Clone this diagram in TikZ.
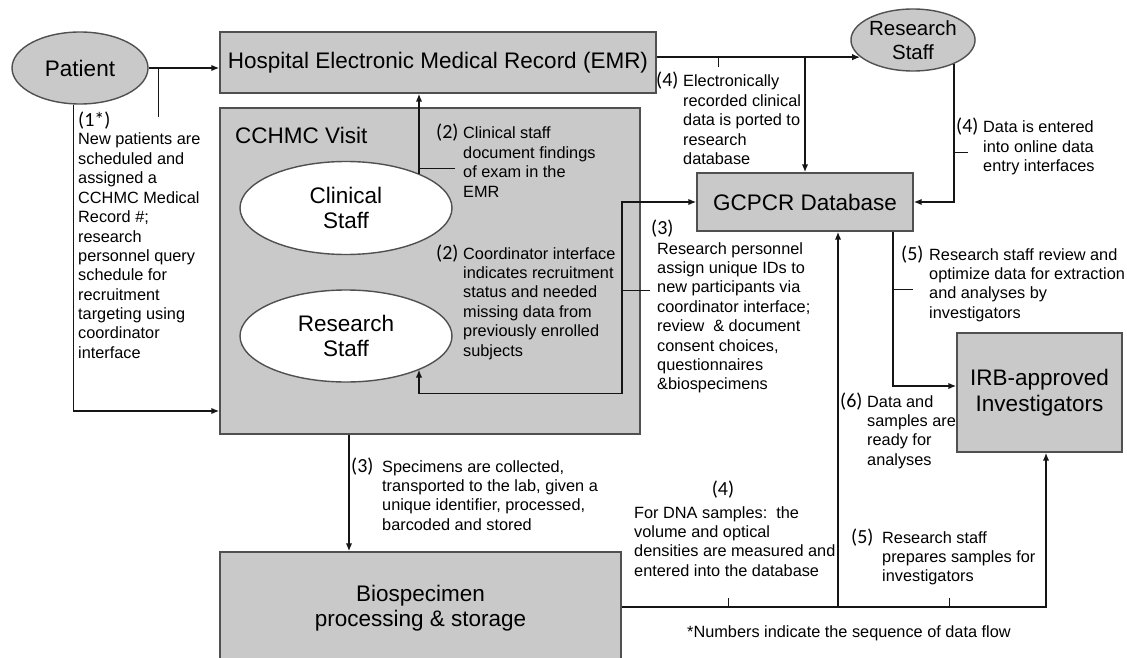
\documentclass[tikz,border=0pt]{standalone}
\usepackage{fontspec}
\setmainfont{Liberation Sans}
\newfontfamily\numfont{Carlito}
\usetikzlibrary{arrows.meta,calc,shapes.geometric}
\newcommand{\mylines}[1]{\begin{tabular}[t]{@{}l@{}}#1\end{tabular}}
\newcommand{\bigf}{\fontsize{22.5}{25.5}\selectfont}
\newcommand{\midf}{\fontsize{20.5}{23.5}\selectfont}
\newcommand{\smallf}{\fontsize{16.3}{19.4}\selectfont}
\newcommand{\numf}{\numfont\fontsize{20}{19.4}\selectfont}
\definecolor{boxgray}{HTML}{C9C9C9}
\definecolor{edgegray}{HTML}{505050}
\definecolor{linec}{HTML}{151515}
\begin{document}
\begin{tikzpicture}[x=1pt,y=-1pt,
  box/.style={draw=edgegray,line width=1.4pt,fill=boxgray,inner sep=0pt,font=\bigf,align=center},
  gell/.style={ellipse,draw=edgegray,line width=1.4pt,fill=boxgray,inner sep=0pt,font=\bigf,align=center},
  well/.style={ellipse,draw=edgegray,line width=1.4pt,fill=white,inner sep=0pt,font=\bigf,align=center},
  lab/.style={anchor=base west,inner sep=0pt,font=\smallf},
  num/.style={anchor=base west,inner sep=0pt,font=\numf},
  arr/.style={draw=linec,line width=1.8pt,-{Latex[length=8pt,width=6.5pt]}},
  arrtwo/.style={draw=linec,line width=1.8pt,{Latex[length=8pt,width=6.5pt]}-{Latex[length=8pt,width=6.5pt]}},
  tick/.style={draw=linec,line width=0.9pt}]
\useasboundingbox (0,0) rectangle (1127,658);
\clip (0,0) rectangle (1127,658);
\fill[white] (0,0) rectangle (1127,658);

% main shapes
\node[gell,minimum width=136pt,minimum height=72pt] (patient) at (80,68) {Patient};
\node[box,minimum width=436pt,minimum height=61pt] (emr) at (438,62.5) {Hospital Electronic Medical Record (EMR)};
\node[box,minimum width=420pt,minimum height=326pt] (visit) at (430,271) {};
\node[anchor=base west,inner sep=0pt,font=\bigf] (visitlab) at (235,143) {CCHMC Visit};
\node[well,minimum width=212pt,minimum height=93pt] (clin) at (346,208) {Clinical\\Staff};
\node[well,minimum width=212pt,minimum height=92pt] (rsone) at (346,336) {Research\\Staff};
\node[gell,font=\midf,minimum width=122pt,minimum height=62pt] (rstwo) at (913,40) {Research\\Staff};
\node[box,minimum width=216pt,minimum height=58pt] (gcpcr) at (805,202) {GCPCR Database};
\node[box,minimum width=165pt,minimum height=119pt] (irb) at (1039.5,392.5) {IRB-approved\\Investigators};
\node[box,minimum width=401pt,minimum height=112pt] (bio) at (420.5,608) {Biospecimen\\processing \& storage};

% connectors
\draw[arr] (patient.east) -- (emr.west |- patient.east);
\draw[tick] (158,68) -- (158,117);
\draw[arr] (patient.260) |- (visit.west |- 0,411);

\draw[arr] ($(clin.center)+(73,-34)$) coordinate (cone) -- (cone |- emr.south);
\draw[tick] (cone |- 0,168) -- (455,168);

\draw[arr] (emr.east |- rstwo.198) -- (rstwo.198);
\draw[arr] (gcpcr.north |- rstwo.198) -- (gcpcr.north);
\draw[tick] (718,57.5) -- (718,67);

\draw[arr] (rstwo.-30) |- (gcpcr.east);
\draw[tick] (rstwo.-30 |- 0,152) -- (968,152);

\draw[arr] ($(gcpcr.south east)+(-21,0)$) coordinate (gout) |- ($(irb.west)+(0,-6.5)$);
\draw[tick] (gout |- 0,289) -- (913,289);

\draw[arrtwo] ($(rsone.center)+(73,33.5)$) -- ++(0,24) -| ($(gcpcr.west)+(-74,0)$) coordinate (gin) -- (gcpcr.west);
\draw[tick] (gin |- 0,290) -- (650,290);

\draw[arr] (visit.south -| 349,0) -- (bio.north -| 349,0);

\draw[arr] (bio.east |- 0,607) -| ($(irb.south)+(6.5,0)$);
\draw[arr] (838,607) coordinate (bj) -- (gcpcr.south -| bj);
\draw[tick] (728,598) -- (728,607);
\draw[tick] (949,598) -- (949,607);

% labels
\node[num] (n1) at (78,127) {(1*)};
\node[lab] (t1) at (78,145) {\mylines{New patients are\\scheduled and\\assigned a\\CCHMC Medical\\Record \#;\\research\\personnel query\\schedule for\\recruitment\\targeting using\\coordinator\\interface}};

\node[num] (n2a) at (436,139) {(2)};
\node[lab] (t2a) at (463,139) {\mylines{Clinical staff\\document findings\\of exam in the\\EMR}};

\node[num] (n2b) at (436,259) {(2)};
\node[lab] (t2b) at (463,259) {\mylines{Coordinator interface\\indicates recruitment\\status and needed\\missing data from\\previously enrolled\\subjects}};

\node[num] (n4a) at (656,87) {(4)};
\node[lab] (t4a) at (683,87) {\mylines{Electronically\\recorded clinical\\data is ported to\\research\\database}};

\node[num] (n4b) at (956,133) {(4)};
\node[lab] (t4b) at (983,133) {\mylines{Data is entered\\into online data\\entry interfaces}};

\node[num] (n5a) at (901,260) {(5)};
\node[lab] (t5a) at (929,260) {\mylines{Research staff review and\\optimize data for extraction\\and analyses by\\investigators}};

\node[num] (n3a) at (651,234) {(3)};
\node[lab] (t3a) at (657,254) {\mylines{Research personnel\\assign unique IDs to\\new participants via\\coordinator interface;\\review\ \ \& document\\consent choices,\\questionnaires\\\&biospecimens}};

\node[num] (n3b) at (351,472) {(3)};
\node[lab] (t3b) at (382,472) {\mylines{Specimens are collected,\\transported to the lab, given a\\unique identifier, processed,\\barcoded and stored}};

\node[num,anchor=base] (n4c) at (723,495) {(4)};
\node[lab] (t4c) at (634,518) {\mylines{For DNA samples:\ \ the\\volume and optical\\densities are measured and\\entered into the database}};

\node[num] (n6) at (840,407) {(6)};
\node[lab] (t6) at (867,407) {\mylines{Data and\\samples are\\ready for\\analyses}};

\node[num] (n5b) at (851,543) {(5)};
\node[lab] (t5b) at (882,543) {\mylines{Research staff\\prepares samples for\\investigators}};

\node[lab] (foot) at (687,637) {*Numbers indicate the sequence of data flow};
\end{tikzpicture}
\end{document}
